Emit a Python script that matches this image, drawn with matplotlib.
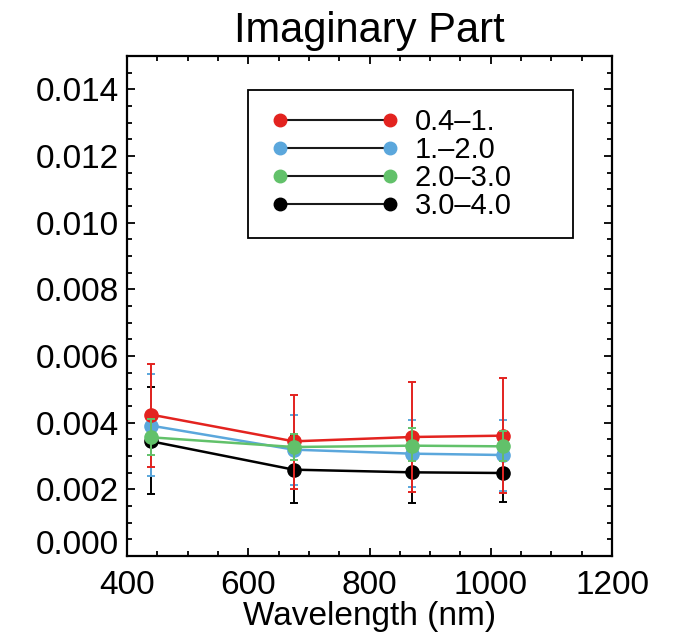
import numpy as np
import matplotlib
matplotlib.use("Agg")
import matplotlib.pyplot as plt
from matplotlib.lines import Line2D
from matplotlib.legend_handler import HandlerLine2D
from matplotlib.ticker import MultipleLocator
from matplotlib.transforms import ScaledTranslation

plt.rcParams["font.family"] = ["Liberation Sans", "DejaVu Sans"]

# AERONET wavelengths (nm)
wavelength = [440, 675, 870, 1020]

labels = ["0.4\u20131.", "1.\u20132.0", "2.0\u20133.0", "3.0\u20134.0"]
colors = ["#e3231f", "#5ba7dc", "#62c16a", "#000000"]

# mean imaginary part per bin
k_red = [0.00424, 0.00344, 0.00357, 0.00361]
k_blue = [0.00391, 0.00319, 0.00307, 0.00303]
k_green = [0.00356, 0.00327, 0.00331, 0.00329]
k_black = [0.00344, 0.00259, 0.00251, 0.00249]

# error bar upper / lower ends
hi_red = [0.00577, 0.00482, 0.00522, 0.00535]
lo_red = [0.00267, 0.00201, 0.00193, 0.00189]
hi_blue = [0.00545, 0.00424, 0.00409, 0.00409]
lo_blue = [0.00239, 0.00214, 0.00206, 0.00194]
hi_green = [0.00410, 0.00366, 0.00384, 0.00374]
lo_green = [0.00304, 0.00289, 0.00284, 0.00284]
hi_black = [0.00506, 0.00364, 0.00340, 0.00340]
lo_black = [0.00186, 0.00160, 0.00160, 0.00162]

series = [
    (k_red, lo_red, hi_red),
    (k_blue, lo_blue, hi_blue),
    (k_green, lo_green, hi_green),
    (k_black, lo_black, hi_black),
]
# black at the bottom, green on top
zorders = [4, 3, 5, 2]

fig = plt.figure(figsize=(6.73, 6.42), dpi=100)
ax = fig.add_axes([127 / 673, 1 - 556 / 642, 485 / 673, 500 / 642])

for (k, lo, hi), col, z in zip(series, colors, zorders):
    k = np.array(k)
    yerr = [k - np.array(lo), np.array(hi) - k]
    ax.errorbar(wavelength, k, yerr=yerr, color=col, lw=1.8, elinewidth=1.4,
                capsize=3, capthick=1.4, marker="o", ms=9.5, mec=col, mfc=col,
                zorder=z)

ax.set_xlim(400, 1200)
ax.set_ylim(0, 0.015)
ax.set_xticks([400, 600, 800, 1000, 1200])
ax.set_yticks(np.arange(0, 0.0141, 0.002))
ax.yaxis.set_major_formatter(plt.FuncFormatter(lambda v, p: f"{v:.3f}"))
ax.xaxis.set_minor_locator(MultipleLocator(50))
ax.yaxis.set_minor_locator(MultipleLocator(0.0005))
ax.tick_params(which="both", direction="in", top=True, right=True,
               labelsize=24, width=1.3)
ax.tick_params(axis="y", pad=6)
ax.tick_params(axis="x", pad=10)
ax.tick_params(which="major", length=6)
ax.tick_params(which="minor", length=3.5)
for s in ax.spines.values():
    s.set_linewidth(1.6)

ax.set_xlabel("Wavelength (nm)", fontsize=24, labelpad=0)
ax.set_title("Imaginary Part", fontsize=30, pad=10)

# legend: dark connecting line with a coloured dot at each end
handles = [Line2D([0], [0], color="#1a1a1a", lw=1.5, marker="o", ms=9,
                  mfc=c, mec=c) for c in colors]
leg = ax.legend(handles, labels, loc="upper left", mode="expand",
                bbox_to_anchor=(121 / 485, 0.5, 325 / 485, 0.432),
                borderaxespad=0, fontsize=21,
                handler_map={Line2D: HandlerLine2D(marker_pad=0, numpoints=2,
                                                   xpad=0.48)},
                handlelength=4.25, handletextpad=0.85,
                labelspacing=0.0, borderpad=0.62, fancybox=False,
                framealpha=1, edgecolor="black")
leg.get_frame().set_linewidth(1.3)

fig.canvas.draw()
zero_lab = ax.get_yticklabels()[0]
zero_lab.set_transform(zero_lab.get_transform() +
                       ScaledTranslation(0, 10 / 72, fig.dpi_scale_trans))

fig.savefig("out.png", dpi=100)
